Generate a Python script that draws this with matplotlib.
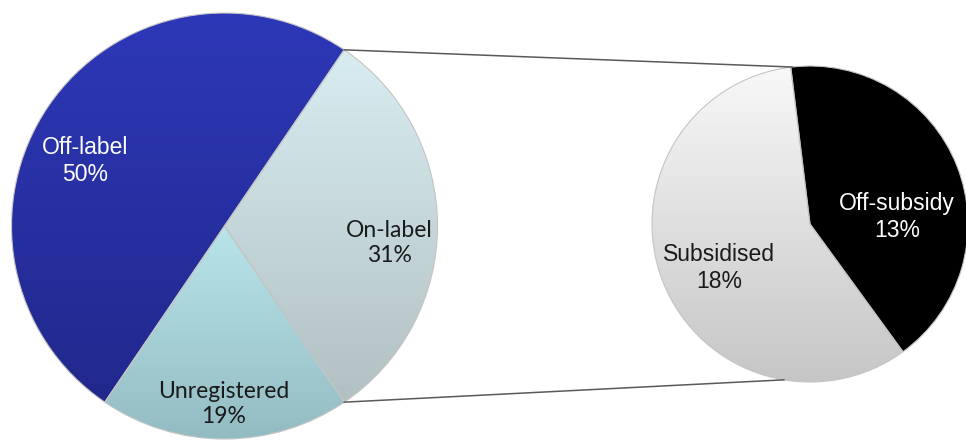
import matplotlib

matplotlib.use("Agg")
import matplotlib.pyplot as plt
import numpy as np
from matplotlib.colors import LinearSegmentedColormap

# main pie, counter-clockwise from the Off-label / On-label boundary
MAIN_LABELS = ["Off-label", "Unregistered", "On-label"]
MAIN_VALUES = [50, 19, 31]
# secondary pie breaks down the On-label share
SUB_LABELS = ["Subsidised", "Off-subsidy"]
SUB_VALUES = [18, 13]

MAIN_GRAD = [("#2d38b8", "#21288c"), ("#b8e5ea", "#93bcc2"), ("#d8edf2", "#b2c0c2")]
SUB_GRAD = [("#f8f8f8", "#c6c6c6"), ("#000000", "#000000")]

MAIN_TEXT = [("white", "Liberation Sans"), ("#1a1a1a", "Lato"), ("#1a1a1a", "Lato")]
SUB_TEXT = [("#1a1a1a", "Liberation Sans"), ("white", "Liberation Sans")]

# label anchor points in pixel space (x, y from bottom)
MAIN_POS = [(85, 281), (224, 38), (389, 199)]
SUB_POS = [(719, 174), (897, 225)]

W, H = 966, 442
MAIN_C, MAIN_R = (224.5, 216.0), 213.0
SUB_C, SUB_R = (810.0, 218.0), 158.0


def gradient_fill(ax, wedges, grads):
    ramp = np.linspace(0, 1, 256).reshape(-1, 1)
    for wedge, (top, bottom) in zip(wedges, grads):
        bb = wedge.get_path().get_extents()
        cmap = LinearSegmentedColormap.from_list("g", [bottom, top])
        im = ax.imshow(
            ramp,
            cmap=cmap,
            origin="lower",
            extent=(bb.x0, bb.x1, bb.y0, bb.y1),
            aspect="auto",
            interpolation="bilinear",
            zorder=1,
        )
        im.set_clip_path(wedge)
        wedge.set_facecolor("none")
        wedge.set_zorder(2)


def main() -> None:
    fig = plt.figure(figsize=(W / 100, H / 100), dpi=100)
    ax = fig.add_axes([0, 0, 1, 1])

    main_wedges, _ = ax.pie(
        MAIN_VALUES,
        center=MAIN_C,
        radius=MAIN_R,
        startangle=55.8,
        counterclock=True,
        wedgeprops={"edgecolor": "#c4c4c4", "linewidth": 0.8},
    )
    sub_wedges, _ = ax.pie(
        SUB_VALUES,
        center=SUB_C,
        radius=SUB_R,
        startangle=97 - 360 * SUB_VALUES[1] / sum(SUB_VALUES) + 360 * 0,
        counterclock=False,
        wedgeprops={"edgecolor": "#c4c4c4", "linewidth": 0.8},
    )
    gradient_fill(ax, main_wedges, MAIN_GRAD)
    gradient_fill(ax, sub_wedges, SUB_GRAD)

    # connector lines from the On-label wedge edges to the secondary pie
    on = main_wedges[2]
    for a_main, a_sub in [(on.theta2, 96.5), (on.theta1, 260.5)]:
        x0 = MAIN_C[0] + MAIN_R * np.cos(np.radians(a_main))
        y0 = MAIN_C[1] + MAIN_R * np.sin(np.radians(a_main))
        x1 = SUB_C[0] + SUB_R * np.cos(np.radians(a_sub))
        y1 = SUB_C[1] + SUB_R * np.sin(np.radians(a_sub))
        ax.plot([x0, x1], [y0, y1], color="#5a5a5a", lw=1.1, zorder=3)

    for labels, values, pos, style in [
        (MAIN_LABELS, MAIN_VALUES, MAIN_POS, MAIN_TEXT),
        (SUB_LABELS, SUB_VALUES, SUB_POS, SUB_TEXT),
    ]:
        for lab, val, (x, y), (col, fam) in zip(labels, values, pos, style):
            ax.text(
                x, y, f"{lab}\n{val}%",
                ha="center", va="center", fontsize=16.5,
                color=col, family=fam, linespacing=1.2, zorder=4,
            )

    ax.set_xlim(0, W)
    ax.set_ylim(0, H)
    ax.set_aspect("equal")
    ax.axis("off")
    fig.savefig("out.png", dpi=100)
    plt.close(fig)


if __name__ == "__main__":
    main()
